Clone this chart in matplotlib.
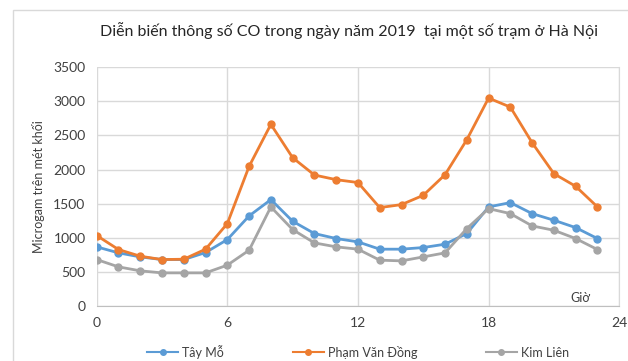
import matplotlib.pyplot as plt
from matplotlib.patches import Rectangle

plt.rcParams["font.family"] = ["Lato", "DejaVu Sans"]

hours = list(range(24))
tay_mo = [868, 780, 721, 682, 682, 785, 975, 1321, 1560, 1243, 1063, 990,
          941, 834, 834, 858, 907, 1063, 1453, 1516, 1355, 1258, 1150, 990]
pham_van_dong = [1034, 829, 731, 682, 687, 834, 1209, 2047, 2662, 2174, 1920, 1852,
                 1810, 1443, 1487, 1623, 1925, 2437, 3047, 2915, 2393, 1940, 1755, 1453]
kim_lien = [682, 575, 517, 487, 487, 487, 600, 819, 1453, 1121, 926, 868,
            834, 673, 663, 721, 780, 1136, 1428, 1355, 1175, 1111, 990, 829]

labels = ["Tây Mỗ", "Phạm Văn Đồng", "Kim Liên"]
colors = ["#5B9BD5", "#ED7D31", "#A5A5A5"]

fig = plt.figure(figsize=(6.28, 3.61), dpi=100)
ax = fig.add_axes([0.154, 0.152, 0.832, 0.662])

for vals, lab, c in zip([tay_mo, pham_van_dong, kim_lien], labels, colors):
    ax.plot(hours, vals, color=c, lw=2, marker="o", ms=5, label=lab)

ax.set_xlim(0, 24)
ax.set_ylim(0, 3500)
ax.set_xticks([0, 6, 12, 18, 24])
ax.set_yticks(range(0, 3501, 500))
ax.grid(True, color="#D9D9D9", lw=1)
ax.set_axisbelow(True)
for s in ["top", "left"]:
    ax.spines[s].set_visible(False)
ax.spines["right"].set_color("#D9D9D9")
ax.spines["bottom"].set_color("#BFBFBF")
ax.tick_params(length=0, labelsize=10, colors="#404040", pad=8)

ax.set_ylabel("Microgam trên mét khối", fontsize=9, color="#404040", labelpad=6)
ax.text(22.2, 30, "Giờ", fontsize=9, color="#404040", ha="center", va="bottom")
fig.text(0.555, 0.915, "Diễn biến thông số CO trong ngày năm 2019  tại một số trạm ở Hà Nội",
         ha="center", va="center", fontsize=11.5, color="#262626")

leg = ax.legend(loc="upper center", bbox_to_anchor=(0.5, -0.115), ncol=3, frameon=False,
                fontsize=9, handlelength=2.5, columnspacing=5.5, handletextpad=0.3,
                labelcolor="#404040", markerscale=0.8)
for h in leg.legend_handles:
    h.set_linewidth(1.5)

fig.patches.append(Rectangle((0.021, -0.1), 1.2, 1.073, transform=fig.transFigure,
                             fill=False, ec="#D9D9D9", lw=1))

fig.savefig("out.png")
